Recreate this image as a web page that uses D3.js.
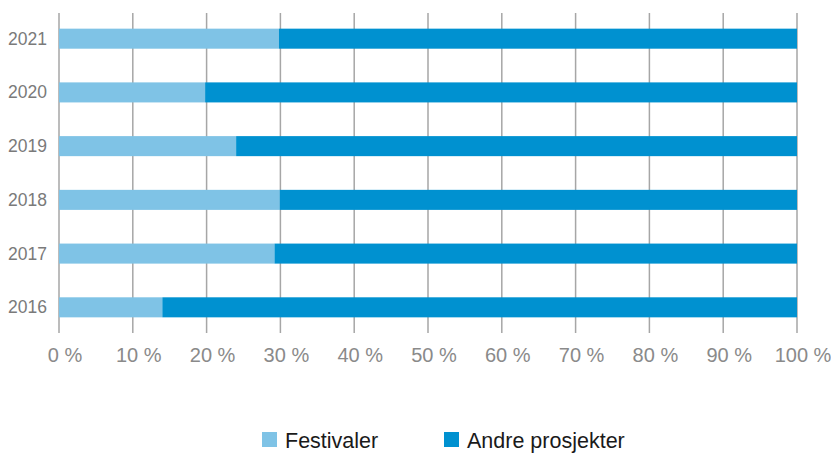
<!DOCTYPE html>
<html>
<head>
<meta charset="utf-8">
<script src="https://cdn.jsdelivr.net/npm/d3@7"></script>
<style>
  body { margin: 0; background: #fff; }
  svg text { font-family: "Liberation Sans", Arial, sans-serif; }
</style>
</head>
<body>
<div id="chart"></div>
<script>
var years = ["2021", "2020", "2019", "2018", "2017", "2016"];
var festivaler = [29.8, 19.8, 24.0, 29.9, 29.2, 14.0];
var andre = [70.2, 80.2, 76.0, 70.1, 70.8, 86.0];
var seriesNames = ["Festivaler", "Andre prosjekter"];
var colors = ["#7fc3e6", "#0091d0"];
var xTicks = [0, 10, 20, 30, 40, 50, 60, 70, 80, 90, 100];

var width = 831, height = 453;
var svg = d3.select("#chart").append("svg")
    .attr("width", width)
    .attr("height", height);

var x = d3.scaleLinear().domain([0, 100]).range([59, 797]);
var y = d3.scaleBand().domain(years).range([12, 334]).paddingInner(0.627).paddingOuter(0.31);

// grid
svg.append("g").selectAll("line")
  .data(xTicks)
  .enter().append("line")
  .attr("x1", function(d) { return x(d); })
  .attr("x2", function(d) { return x(d); })
  .attr("y1", 13)
  .attr("y2", 333)
  .style("stroke", "#a6a6a6")
  .style("stroke-width", 1.5);

var rows = years.map(function(yr, i) {
  return { year: yr, a: festivaler[i], b: andre[i] };
});

svg.append("g").selectAll("rect")
  .data(rows)
  .enter().append("rect")
  .attr("x", function(d) { return x(0); })
  .attr("y", function(d) { return y(d.year); })
  .attr("width", function(d) { return x(d.a) - x(0); })
  .attr("height", y.bandwidth())
  .style("fill", colors[0]);

svg.append("g").selectAll("rect")
  .data(rows)
  .enter().append("rect")
  .attr("x", function(d) { return x(d.a); })
  .attr("y", function(d) { return y(d.year); })
  .attr("width", function(d) { return x(d.a + d.b) - x(d.a); })
  .attr("height", y.bandwidth())
  .style("fill", colors[1]);

// y labels
svg.append("g").selectAll("text")
  .data(years)
  .enter().append("text")
  .attr("x", 47)
  .attr("y", function(d) { return y(d) + y.bandwidth() / 2 + 6; })
  .attr("text-anchor", "end")
  .attr("font-size", "17.5px")
  .attr("fill", "#7a7a7a")
  .text(function(d) { return d; });

// x labels
svg.append("g").selectAll("text")
  .data(xTicks)
  .enter().append("text")
  .attr("x", function(d) { return x(d) + 6; })
  .attr("y", 362)
  .attr("text-anchor", "middle")
  .attr("font-size", "20px")
  .attr("fill", "#8a8a8a")
  .text(function(d) { return d + " %"; });

// legend
var legendX = [262, 444];
var lg = svg.append("g").selectAll("g")
  .data(seriesNames)
  .enter().append("g")
  .attr("transform", function(d, i) { return "translate(" + legendX[i] + ",432)"; });
lg.append("rect")
  .attr("width", 15)
  .attr("height", 15)
  .style("fill", function(d, i) { return colors[i]; });
lg.append("text")
  .attr("x", 23)
  .attr("y", 16)
  .attr("font-size", "21.5px")
  .attr("fill", "#1a1a1a")
  .text(function(d) { return d; });
</script>
</body>
</html>
